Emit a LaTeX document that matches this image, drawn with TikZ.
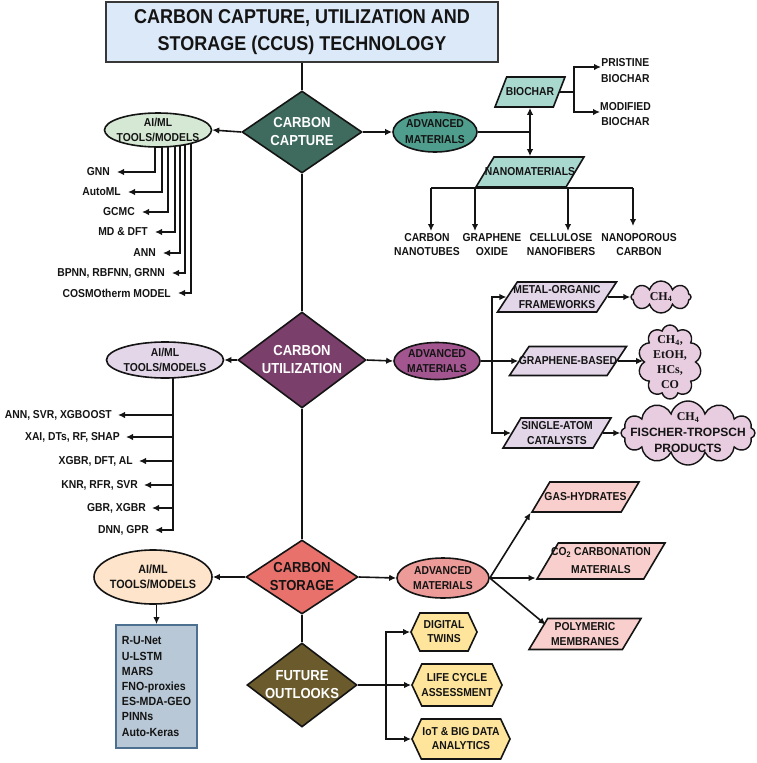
\documentclass[tikz,border=0pt]{standalone}
\usepackage{fontspec}
\setmainfont{Liberation Sans}[FakeStretch=0.9]
\newfontfamily\widesans{Liberation Sans}
\newfontfamily\cloudserif{Liberation Serif}
\usetikzlibrary{shapes.geometric,shapes.symbols,arrows.meta,backgrounds}
\definecolor{titlec}{HTML}{DCE9F9}
\definecolor{capc}{HTML}{3E6B5E}
\definecolor{aicapc}{HTML}{D5E8D4}
\definecolor{advcapc}{HTML}{4F9D8D}
\definecolor{biocc}{HTML}{A9D8CE}
\definecolor{utilc}{HTML}{7B3F6C}
\definecolor{aiutilc}{HTML}{E2D6E8}
\definecolor{advutilc}{HTML}{A2558F}
\definecolor{utilpar}{HTML}{E2D6E8}
\definecolor{cloudc}{HTML}{E8CCE0}
\definecolor{storc}{HTML}{E8716B}
\definecolor{aistorc}{HTML}{FDE4CA}
\definecolor{advstorc}{HTML}{EC9B98}
\definecolor{storpar}{HTML}{F8CFCC}
\definecolor{boxc}{HTML}{B8C8D6}
\definecolor{boxd}{HTML}{4E7090}
\definecolor{futc}{HTML}{6A5A2C}
\definecolor{hexc}{HTML}{FEE59B}
\definecolor{ink}{HTML}{141414}
\tikzset{
  txt/.style={font=\bfseries\fontsize{11.5}{14}\selectfont, align=center, inner sep=0pt, text=ink},
  dtxt/.style={font=\bfseries\fontsize{14.5}{18}\selectfont, align=center, inner sep=0pt},
  conn/.style={line width=1.6pt, draw=ink},
  arr/.style={conn, -{Latex[length=7pt,width=6.5pt]}},
  dia/.style={diamond, draw=ink, line width=1.6pt, inner sep=1pt},
  ell/.style={ellipse, draw=ink, line width=1.6pt, inner sep=1pt},
  par/.style={trapezium, trapezium left angle=76, trapezium right angle=104, trapezium stretches=true, draw=ink, line width=1.6pt, inner sep=2pt},
  cld/.style={cloud, cloud puffs=#1, cloud ignores aspect, draw=ink, line width=1.4pt, fill=cloudc, inner sep=1pt},
  hex/.style={signal, signal to=east and west, signal pointer angle=130, draw=ink, line width=1.6pt, fill=hexc, inner sep=2pt},
  cldtxt/.style={font=\cloudserif\bfseries\fontsize{12}{15}\selectfont, align=center, inner sep=0pt, text=ink}
}
\begin{document}
\begin{tikzpicture}[x=1pt,y=-1pt]
\path[use as bounding box] (0,0) rectangle (756,763);

% ---------- title
\node[draw=ink!85, line width=2pt, fill=titlec, minimum width=392pt, minimum height=60pt, inner sep=0pt,
      font=\bfseries\fontsize{20}{27}\selectfont, align=center, text=ink] (title) at (302,32)
      {CARBON CAPTURE, UTILIZATION AND\\STORAGE (CCUS) TECHNOLOGY};

% ---------- main diamonds
\node[dia, fill=capc, minimum width=120pt, minimum height=82pt] (cap) at (302,132) {};
\node[dtxt, text=white] (capt) at (cap) {CARBON\\CAPTURE};
\node[dia, fill=utilc, minimum width=128pt, minimum height=96pt] (util) at (302,360) {};
\node[dtxt, text=white] (utilt) at (util) {CARBON\\UTILIZATION};
\node[dia, fill=storc, minimum width=112pt, minimum height=74pt] (stor) at (302,577) {};
\node[dtxt, text=ink] (stort) at (stor) {CARBON\\STORAGE};
\node[dia, fill=futc, minimum width=110pt, minimum height=84pt] (fut) at (302,685) {};
\node[dtxt, text=white] (futt) at (fut) {FUTURE\\OUTLOOKS};

\draw[conn] (title.south) -- (cap.north);
\draw[conn] (cap.south) -- (util.north);
\draw[conn] (util.south) -- (stor.north);
\draw[conn] (stor.south) -- (fut.north);

% ---------- capture
\node[ell, fill=aicapc, minimum width=107pt, minimum height=34pt] (aicap) at (158,130) {};
\node[txt, font=\bfseries\fontsize{11.5}{15}\selectfont] (aicapt) at (aicap) {AI/ML\\TOOLS/MODELS};
\node[ell, fill=advcapc, minimum width=84pt, minimum height=40pt] (advcap) at (435,132) {};
\node[txt, font=\bfseries\fontsize{11.5}{16}\selectfont] (advcapt) at (advcap) {ADVANCED\\MATERIALS};
\draw[arr] (cap.west) -- (aicap.east);
\draw[arr] (cap.east) -- (advcap.west);

\node[txt, anchor=east] (c1) at (110,172) {GNN};
\node[txt, anchor=east] (c2) at (121,192) {AutoML};
\node[txt, anchor=east] (c3) at (135,212) {GCMC};
\node[txt, anchor=east] (c4) at (148,232) {MD \& DFT};
\node[txt, anchor=east] (c5) at (156,253) {ANN};
\node[txt, anchor=east] (c6) at (165,273) {BPNN, RBFNN, GRNN};
\node[txt, anchor=east] (c7) at (171,293) {COSMOtherm MODEL};
\begin{scope}[on background layer]
\draw[arr] ([xshift=-3pt]aicap.center) |- ([xshift=7pt]c1.east);
\draw[arr] ([xshift=4pt]aicap.center) |- ([xshift=7pt]c2.east);
\draw[arr] ([xshift=10pt]aicap.center) |- ([xshift=7pt]c3.east);
\draw[arr] ([xshift=17pt]aicap.center) |- ([xshift=7pt]c4.east);
\draw[arr] ([xshift=22pt]aicap.center) |- ([xshift=7pt]c5.east);
\draw[arr] ([xshift=27pt]aicap.center) |- ([xshift=7pt]c6.east);
\draw[arr] ([xshift=33pt]aicap.center) |- ([xshift=7pt]c7.east);
\end{scope}

\node[par, fill=biocc, minimum width=70pt, minimum height=30pt] (bioc) at (530,92) {};
\node[txt] (bioct) at (bioc) {BIOCHAR};
\node[par, fill=biocc, minimum width=108pt, minimum height=30pt] (nano) at (530,172) {};
\node[txt] (nanot) at (nano) {NANOMATERIALS};
\draw[conn] (advcap.east) -- (advcap.east -| bioc.south);
\draw[conn, {Latex[length=7pt,width=6.5pt]}-{Latex[length=7pt,width=6.5pt]}] (bioc.south) -- (nano.north);

\node[txt, font=\bfseries\fontsize{11.5}{16}\selectfont, anchor=west] (prist) at (601,71) {PRISTINE\\BIOCHAR};
\node[txt, font=\bfseries\fontsize{11.5}{15}\selectfont, anchor=west] (modif) at (600,114.5) {MODIFIED\\BIOCHAR};
\coordinate (bj) at (574,92);
\draw[conn, line width=2.6pt] (bioc.east) -- (bj);
\draw[arr] (bj) |- ([yshift=4pt]prist.west);
\draw[arr] (bj) |- ([yshift=2.5pt]modif.west);

\node[txt] (cnt) at (427,245) {CARBON\\NANOTUBES};
\node[txt] (go) at (492,245) {GRAPHENE\\OXIDE};
\node[txt] (cnf) at (561,245) {CELLULOSE\\NANOFIBERS};
\node[txt] (npc) at (639,245) {NANOPOROUS\\CARBON};
\coordinate (n1) at (431,231);
\coordinate (n2) at (475,231);
\coordinate (n3) at (568,231);
\coordinate (n4) at (633,226);
\draw[conn] (n1 |- nano.south) -- (n4 |- nano.south);
\draw[arr] (n1 |- nano.south) -- (n1);
\draw[arr] (n2 |- nano.south) -- (n2);
\draw[arr] (n3 |- nano.south) -- (n3);
\draw[arr] (n4 |- nano.south) -- (n4);

% ---------- utilization
\node[ell, fill=aiutilc, minimum width=117pt, minimum height=36pt] (aiutil) at (165,360) {};
\node[txt, font=\bfseries\fontsize{11.5}{15}\selectfont] (aiutilt) at (aiutil) {AI/ML\\TOOLS/MODELS};
\node[ell, fill=advutilc, minimum width=86pt, minimum height=37pt] (advutil) at (437,361) {};
\node[txt, font=\bfseries\fontsize{11.5}{15}\selectfont] (advutilt) at (advutil) {ADVANCED\\MATERIALS};
\draw[arr] (util.west) -- (aiutil.east);
\draw[arr] (util.east) -- (advutil.west);

\node[txt, anchor=east] (u1) at (112,415) {ANN, SVR, XGBOOST};
\node[txt, anchor=east] (u2) at (120,437) {XAI, DTs, RF, SHAP};
\node[txt, anchor=east] (u3) at (133,461) {XGBR, DFT, AL};
\node[txt, anchor=east] (u4) at (138,485) {KNR, RFR, SVR};
\node[txt, anchor=east] (u5) at (146,508) {GBR, XGBR};
\node[txt, anchor=east] (u6) at (149,530) {DNN, GPR};
\coordinate (ut) at (173,530);
\begin{scope}[on background layer]
\draw[conn, line width=2.8pt] (aiutil.center -| ut) -- ([yshift=-1.4pt]ut);
\end{scope}
\draw[arr] (u1.east -| ut) -- ([xshift=6pt]u1.east);
\draw[arr] (u2.east -| ut) -- ([xshift=6pt]u2.east);
\draw[arr] (u3.east -| ut) -- ([xshift=6pt]u3.east);
\draw[arr] (u4.east -| ut) -- ([xshift=6pt]u4.east);
\draw[arr] (u5.east -| ut) -- ([xshift=6pt]u5.east);
\draw[arr] (u6.east -| ut) -- ([xshift=6pt]u6.east);

\node[par, fill=utilpar, minimum width=119pt, minimum height=30pt] (mof) at (557,297) {};
\node[txt, font=\bfseries\fontsize{11.5}{15}\selectfont] (moft) at (mof) {METAL-ORGANIC\\FRAMEWORKS};
\node[par, fill=utilpar, minimum width=117pt, minimum height=29pt] (gb) at (568,361) {};
\node[txt] (gbt) at (gb) {GRAPHENE-BASED};
\node[par, fill=utilpar, minimum width=108pt, minimum height=30pt] (sac) at (557,433) {};
\node[txt, font=\bfseries\fontsize{11.5}{15}\selectfont] (sact) at (sac) {SINGLE-ATOM\\CATALYSTS};
\coordinate (uj) at (492,361);
\draw[conn] (advutil.east) -- (uj);
\draw[arr] (uj) |- (mof.west);
\draw[arr] (uj) -- (gb.west);
\draw[arr] (uj) |- (sac.west);

\node[cld=8, minimum width=60pt, minimum height=32pt] (cl1) at (661,297) {};
\node[cldtxt] (cl1t) at (cl1) {CH\textsubscript{4}};
\node[cld=10, minimum width=64pt, minimum height=74pt] (cl2) at (670,362) {};
\node[cldtxt] (cl2t) at (cl2) {CH\textsubscript{4},\\EtOH,\\HCs,\\CO};
\node[cld=12, minimum width=134pt, minimum height=64pt] (cl3) at (688,433) {};
\node[cldtxt, font=\bfseries\fontsize{12}{16}\selectfont] (cl3t) at (cl3) {{\cloudserif CH\textsubscript{4}}\\{\widesans FISCHER-TROPSCH}\\{\widesans PRODUCTS}};
\draw[arr] (mof.east) -- (cl1.west);
\draw[arr] (gb.east) -- (cl2.west |- gb.east);
\draw[arr] (sac.east) -- (cl3.west);

% ---------- storage
\node[ell, fill=aistorc, minimum width=118pt, minimum height=54pt] (aistor) at (153,577) {};
\node[txt, font=\bfseries\fontsize{12}{15.5}\selectfont] (aistort) at (aistor) {AI/ML\\TOOLS/MODELS};
\node[ell, fill=advstorc, minimum width=92pt, minimum height=40pt] (advstor) at (443,578) {};
\node[txt, font=\bfseries\fontsize{11.5}{15}\selectfont] (advstort) at (advstor) {ADVANCED\\MATERIALS};
\draw[arr] (stor.west) -- (aistor.east);
\draw[arr] (stor.east) -- (advstor.west);

\node[draw=boxd, line width=1.8pt, fill=boxc, minimum width=81pt, minimum height=123pt, inner sep=0pt] (box) at (156.5,686.5) {};
\node[font=\bfseries\fontsize{11.8}{15.2}\selectfont, align=left, inner sep=0pt, text=ink] (boxt) at (box)
  {R-U-Net\\U-LSTM\\MARS\\FNO-proxies\\ES-MDA-GEO\\PINNs\\Auto-Keras};
\draw[arr] (aistor.south -| box.north) -- (box.north);

\node[par, fill=storpar, minimum width=107pt, minimum height=30pt] (gh) at (585.5,497) {};
\node[txt] (ght) at (gh) {GAS-HYDRATES};
\node[par, fill=storpar, minimum width=128pt, minimum height=36pt] (co2) at (601,561) {};
\node[txt, font=\bfseries\fontsize{11.5}{18}\selectfont] (co2t) at (co2) {CO\textsubscript{2} CARBONATION\\MATERIALS};
\node[par, fill=storpar, minimum width=112pt, minimum height=31pt] (pm) at (585,634) {};
\node[txt, font=\bfseries\fontsize{11.5}{15}\selectfont] (pmt) at (pm) {POLYMERIC\\MEMBRANES};
\draw[arr] (advstor.east) -- (gh.bottom left corner);
\draw[arr] (advstor.east) -- (advstor.east -| co2.bottom left corner);
\draw[arr] (advstor.east) -- ([shift={(-1.5pt,-7pt)}]pm.top left corner);

% ---------- future
\node[hex, minimum width=66pt, minimum height=38pt] (dt) at (444,632) {};
\node[txt] (dtt) at (dt) {DIGITAL\\TWINS};
\node[hex, minimum width=90pt, minimum height=42pt] (lca) at (457,685) {};
\node[txt, font=\bfseries\fontsize{11.5}{15}\selectfont] (lcat) at (lca) {LIFE CYCLE\\ASSESSMENT};
\node[hex, minimum width=98pt, minimum height=40pt] (iot) at (461,739) {};
\node[txt] (iott) at (iot) {IoT \& BIG DATA\\ANALYTICS};
\coordinate (fj) at (386,685);
\draw[conn] (fut.east) -- (fj);
\draw[arr] (fj) |- (dt.west);
\draw[arr] (fj) -- (lca.west);
\draw[arr] (fj) |- (iot.west);
\end{tikzpicture}
\end{document}
